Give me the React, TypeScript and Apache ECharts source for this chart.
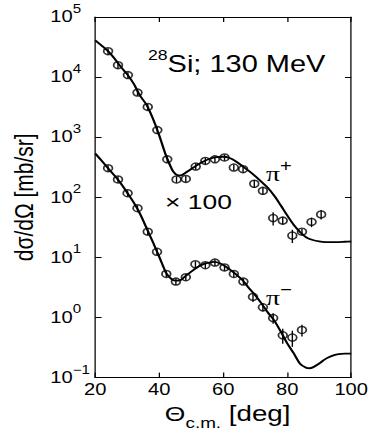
import React, { useEffect, useRef } from "react";
import * as echarts from "echarts";

// ---- data ----
// Experimental points, pi+ (x100)
const piPlusAngle = [24, 27.1, 30.2, 33.2, 36.4, 39.4, 42.5, 45.4, 48.3, 51.4, 54.4, 57.4, 60.4, 63.3, 66.2, 69.7, 72.4, 75.6, 78.6, 81.6, 84.6, 87.6, 90.6];
const piPlusValue = [27000, 15800, 10800, 5530, 3190, 1315, 428, 198, 202, 325, 403, 428, 460, 313, 294, 168, 128, 45.2, 41, 23.1, 26.8, 38.9, 51.9];
const piPlusErrPct = [12, 12, 12, 12, 12, 12, 12, 12, 12, 12, 12, 12, 12, 12, 12, 15, 15, 25, 15, 25, 12, 18, 18];

// Experimental points, pi-
const piMinusAngle = [24, 27.1, 30.1, 33.2, 36.4, 39.3, 42.2, 45.2, 48.3, 51.3, 54.4, 57.4, 60.4, 63.3, 66.3, 69.3, 72.4, 75.6, 78.6, 81.6, 84.6];
const piMinusValue = [305, 198, 117, 65.8, 26.8, 12.4, 5.3, 3.96, 4.68, 7.69, 7.41, 8.2, 6.81, 5.3, 3.96, 2.21, 1.48, 0.98, 0.506, 0.464, 0.62];
const piMinusErrPct = [12, 12, 12, 12, 12, 12, 12, 12, 12, 12, 12, 12, 12, 12, 12, 18, 15, 20, 28, 30, 22];

// Theory curves
const thPlusAngle = [20, 22, 24, 26, 28, 30, 32, 34, 36, 38, 40, 42, 44, 45, 46, 47, 48, 50, 52, 54, 56, 58, 60, 62, 64, 66, 68, 70, 72, 74, 76, 78, 80, 82, 84, 86, 88, 90, 92, 94, 96, 98, 100];
const thPlusValue = [41000, 33500, 27000, 20400, 14800, 11100, 7760, 4900, 3470, 2040, 1070, 513, 288, 245, 232, 234, 251, 295, 347, 398, 442, 468, 473, 450, 395, 330, 275, 225, 180, 143, 105, 73, 50, 35, 26.5, 21.5, 19.5, 18.5, 18, 17.9, 18, 18.2, 18.4];
const thMinusAngle = [20, 22, 24, 26, 28, 30, 32, 34, 36, 38, 40, 42, 43, 44, 45, 46, 47, 48, 50, 52, 54, 56, 57, 58, 60, 62, 64, 66, 68, 70, 72, 74, 76, 78, 80, 82, 84, 86, 87, 88, 90, 92, 94, 96, 98, 100];
const thMinusValue = [536, 405, 305, 230, 170, 119, 82, 53, 31, 18, 10.2, 5.7, 4.8, 4.3, 4.1, 4.1, 4.3, 4.8, 5.8, 6.9, 7.8, 8.3, 8.4, 8.3, 7.5, 6.3, 5.2, 4.2, 3.1, 2.35, 1.7, 1.2, 0.88, 0.58, 0.37, 0.255, 0.17, 0.145, 0.143, 0.148, 0.172, 0.205, 0.23, 0.245, 0.25, 0.25];

// Axis ticks
const xTicks = { min: 20, max: 100, step: 20 };
const yRange = { min: 0.1, max: 100000 };

const FONT = "'Liberation Sans', Arial, Helvetica, sans-serif";
const SERIF = "'Liberation Serif', 'DejaVu Serif', serif";

const W = 374;
const H = 436;
const S = 1.26; // horizontal stretch of the reference
const W0 = W / S;

const zip = (a: number[], b: number[]) => a.map((v, i) => [v, b[i]]);
const zip3 = (a: number[], b: number[], c: number[]) => a.map((v, i) => [v, b[i], c[i]]);

export default function App() {
  const ref = useRef<HTMLDivElement>(null);

  useEffect(() => {
    if (!ref.current) return;
    const chart = echarts.init(ref.current, undefined, { renderer: "svg" });

    const errRender = (params: any, api: any) => {
      const x = api.value(0);
      const y = api.value(1);
      const e = api.value(2) / 100;
      const p1 = api.coord([x, y * (1 + e)]);
      const p2 = api.coord([x, y * (1 - e)]);
      return {
        type: "line",
        shape: { x1: p1[0], y1: p1[1], x2: p2[0], y2: p2[1] },
        style: { stroke: "#000", lineWidth: 1.1 },
      };
    };

    const axisCommon = {
      min: xTicks.min,
      max: xTicks.max,
      interval: xTicks.step,
      axisLine: { show: true, onZero: false, lineStyle: { color: "#000", width: 1 } },
      axisTick: { show: true, inside: true, length: 5, lineStyle: { color: "#000", width: 1 } },
      splitLine: { show: false },
    };

    const yFormatter = (v: number) => {
      const e = Math.round(Math.log10(v));
      const es = e < 0 ? "\u2212" + Math.abs(e) : String(e);
      return "{b|10}{s|" + es + "}";
    };

    chart.setOption({
      animation: false,
      backgroundColor: "#fff",
      grid: { left: 82 / S, right: W0 - 351 / S, top: 17, bottom: H - 386 },
      xAxis: [
        {
          type: "value",
          position: "bottom",
          ...axisCommon,
          axisLabel: { color: "#000", fontSize: 16, fontFamily: FONT, margin: 4 },
          name: "{t|\u0398}{sub|c.m.}{b| [deg]}",
          nameLocation: "middle",
          nameGap: 6,
          nameTextStyle: {
            padding: [0, 0, 0, 7],
            rich: {
              t: { fontSize: 21, fontFamily: FONT, color: "#000" },
              sub: { fontSize: 15, fontFamily: FONT, color: "#000", padding: [20, 0, 0, 0] },
              b: { fontSize: 22, fontFamily: FONT, color: "#000" },
            },
          },
        },
        {
          type: "value",
          position: "top",
          ...axisCommon,
          axisLabel: { show: false },
        },
      ],
      yAxis: [
        {
          type: "log",
          logBase: 10,
          min: yRange.min,
          max: yRange.max,
          interval: 1,
          position: "left",
          axisLine: { show: true, onZero: false, lineStyle: { color: "#000", width: 1 } },
          axisTick: { show: true, inside: true, length: 5, lineStyle: { color: "#000", width: 1 } },
          minorTick: { show: false },
          splitLine: { show: false },
          axisLabel: {
            formatter: yFormatter,
            align: "left",
            margin: 82 / S - 37 / S,
            rich: {
              b: { fontSize: 16, fontFamily: FONT, color: "#000", lineHeight: 20 },
              s: { fontSize: 12, fontFamily: FONT, color: "#000", padding: [0, 0, 16, 0] },
            },
          },
          name: "d\u03c3/d\u03a9 [mb/sr]",
          nameLocation: "middle",
          nameGap: 36,
          nameRotate: 90,
          nameTextStyle: { fontSize: 21, fontFamily: FONT, color: "#000" },
        },
        {
          type: "log",
          logBase: 10,
          min: yRange.min,
          max: yRange.max,
          interval: 1,
          position: "right",
          axisLine: { show: true, onZero: false, lineStyle: { color: "#000", width: 1 } },
          axisTick: { show: true, inside: true, length: 5, lineStyle: { color: "#000", width: 1 } },
          minorTick: { show: false },
          splitLine: { show: false },
          axisLabel: { show: false },
        },
      ],
      graphic: [
        {
          type: "text",
          x: 148 / S,
          y: 64,
          style: {
            text: "{s|28}{m|Si; 130 MeV}",
            verticalAlign: "middle",
            align: "left",
            rich: {
              s: { fontSize: 14, fontFamily: FONT, fill: "#000", padding: [0, 0, 18, 0] },
              m: { fontSize: 23, fontFamily: FONT, fill: "#000" },
            },
          },
        },
        {
          type: "text",
          x: 165 / S,
          y: 202,
          style: {
            text: "\u00d7 100",
            fontSize: 21,
            fontFamily: FONT,
            fill: "#000",
            verticalAlign: "middle",
            align: "left",
          },
        },
        {
          type: "text",
          x: 266 / S,
          y: 174,
          style: {
            text: "{p|\u03c0}{s|+}",
            verticalAlign: "middle",
            align: "left",
            rich: {
              p: { fontSize: 22, fontFamily: SERIF, fill: "#000" },
              s: { fontSize: 16, fontFamily: FONT, fill: "#000", padding: [0, 0, 16, 0] },
            },
          },
        },
        {
          type: "text",
          x: 266 / S,
          y: 298,
          style: {
            text: "{p|\u03c0}{s|\u2212}",
            verticalAlign: "middle",
            align: "left",
            rich: {
              p: { fontSize: 22, fontFamily: SERIF, fill: "#000" },
              s: { fontSize: 16, fontFamily: FONT, fill: "#000", padding: [0, 0, 16, 0] },
            },
          },
        },
      ],
      series: [
        {
          type: "line",
          name: "theory pi+ x100",
          data: zip(thPlusAngle, thPlusValue),
          smooth: 0.3,
          symbol: "none",
          lineStyle: { color: "#000", width: 1.8 },
          z: 2,
        },
        {
          type: "line",
          name: "theory pi-",
          data: zip(thMinusAngle, thMinusValue),
          smooth: 0.3,
          symbol: "none",
          lineStyle: { color: "#000", width: 1.8 },
          z: 2,
        },
        {
          type: "custom",
          name: "err pi+",
          data: zip3(piPlusAngle, piPlusValue, piPlusErrPct),
          renderItem: errRender,
          z: 3,
        },
        {
          type: "custom",
          name: "err pi-",
          data: zip3(piMinusAngle, piMinusValue, piMinusErrPct),
          renderItem: errRender,
          z: 3,
        },
        {
          type: "scatter",
          name: "pi+ x100",
          data: zip(piPlusAngle, piPlusValue),
          symbol: "circle",
          symbolSize: 7,
          itemStyle: { color: "rgba(0,0,0,0)", borderColor: "#000", borderWidth: 1.4 },
          z: 4,
        },
        {
          type: "scatter",
          name: "pi-",
          data: zip(piMinusAngle, piMinusValue),
          symbol: "circle",
          symbolSize: 7,
          itemStyle: { color: "rgba(0,0,0,0)", borderColor: "#000", borderWidth: 1.4 },
          z: 4,
        },
      ],
    });

    return () => chart.dispose();
  }, []);

  return (
    <div
      style={{
        position: "fixed",
        left: 0,
        top: 0,
        width: W,
        height: H,
        overflow: "hidden",
        background: "#fff",
      }}
    >
      <div
        ref={ref}
        style={{
          width: W0,
          height: H,
          transform: `scaleX(${S})`,
          transformOrigin: "0 0",
        }}
      />
    </div>
  );
}
